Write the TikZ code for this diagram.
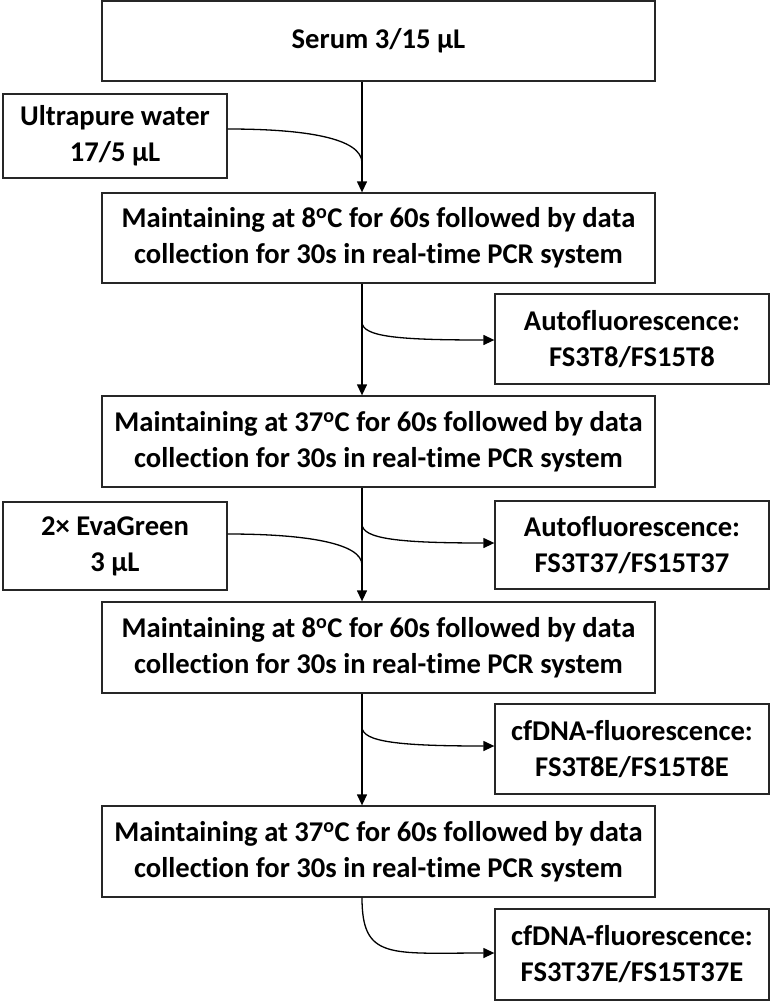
\documentclass[tikz,border=0pt]{standalone}
\usepackage{fontspec}
\setmainfont{Carlito}[Ligatures=NoCommon]
\usetikzlibrary{arrows.meta}
\begin{document}
\begin{tikzpicture}[x=1pt,y=-1pt,
  box/.style={draw=black!85, line width=1.3pt, align=center, inner sep=0pt,
    font=\bfseries\fontsize{28.6}{36}\selectfont},
  wide/.style={box, minimum width=553pt},
  side/.style={box, minimum width=274pt},
  left/.style={box, minimum width=224pt},
  conn/.style={line width=1.3pt},
  arr/.style={conn, -{Triangle[length=11pt,width=10pt]}}]
\useasboundingbox (0,0) rectangle (770,1001);
\coordinate (m) at (362,0);
% boxes
\node[wide, minimum height=80pt] (serum) at (378.5,41) {Serum 3/15 μL};
\node[left, minimum height=84pt] (water) at (115,136) {Ultrapure water\\17/5 μL};
\node[wide, minimum height=90pt] (s1) at (378.5,238) {Maintaining at 8\textsuperscript{o}C for 60s followed by data\\collection for 30s in real-time PCR system};
\node[side, minimum height=90pt] (a1) at (632,339) {Autofluorescence:\\FS3T8/FS15T8};
\node[wide, minimum height=91pt] (s2) at (378.5,441.5) {Maintaining at 37\textsuperscript{o}C for 60s followed by data\\collection for 30s in real-time PCR system};
\node[left, minimum height=88pt] (eva) at (115,546) {2× EvaGreen\\3 μL};
\node[side, minimum height=88pt] (a2) at (632,545) {Autofluorescence:\\FS3T37/FS15T37};
\node[wide, minimum height=91pt] (s3) at (378.5,647.5) {Maintaining at 8\textsuperscript{o}C for 60s followed by data\\collection for 30s in real-time PCR system};
\node[side, minimum height=90pt] (c1) at (632,749) {cfDNA-fluorescence:\\FS3T8E/FS15T8E};
\node[wide, minimum height=91pt] (s4) at (378.5,851.5) {Maintaining at 37\textsuperscript{o}C for 60s followed by data\\collection for 30s in real-time PCR system};
\node[side, minimum height=91pt] (c2) at (632,954.5) {cfDNA-fluorescence:\\FS3T37E/FS15T37E};
% junction points
\coordinate (j1) at (362,163);
\coordinate (b1) at (362,322);
\coordinate (b2) at (362,524);
\coordinate (j2) at (362,565);
\coordinate (b3) at (362,727);
% main flow
\draw[arr] (serum.south -| m) -- (s1.north -| m);
\draw[arr] (s1.south -| m) -- (s2.north -| m);
\draw[arr] (s2.south -| m) -- (s3.north -| m);
\draw[arr] (s3.south -| m) -- (s4.north -| m);
% additions
\draw[conn] ([yshift=7pt]water.east) .. controls (305,129) and (362,138) .. (j1);
\draw[conn] ([yshift=12pt]eva.east) .. controls (305,534) and (362,543) .. (j2);
% branches
\draw[arr] (b1) .. controls (362,337) and (400,340) .. ([yshift=-1pt]a1.west);
\draw[arr] (b2) .. controls (362,539) and (400,543) .. ([yshift=2pt]a2.west);
\draw[arr] (b3) .. controls (362,742) and (400,746) .. ([yshift=3pt]c1.west);
\draw[arr] (s4.south -| m) .. controls (362,960) and (390,953) .. ([yshift=1.5pt]c2.west);
\end{tikzpicture}
\end{document}
